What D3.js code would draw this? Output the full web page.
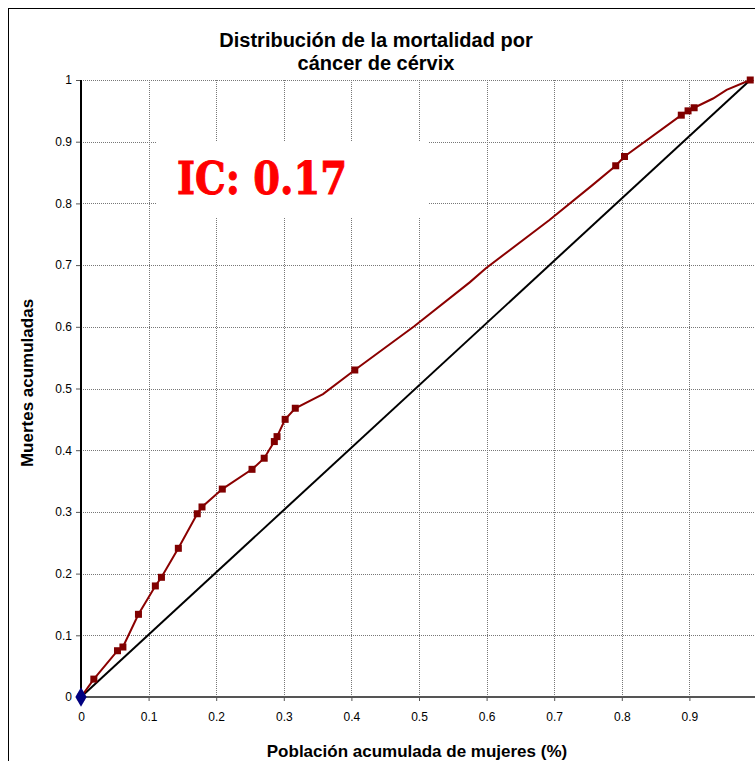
<!DOCTYPE html>
<html>
<head>
<meta charset="utf-8">
<script src="https://cdn.jsdelivr.net/npm/d3@7"></script>
<style>
  body { margin: 0; background: #fff; overflow: hidden; }
  svg text { font-family: "Liberation Sans", Arial, sans-serif; }
</style>
</head>
<body>
<svg id="chart"></svg>
<script>
// data
var xTicks = [0, 0.1, 0.2, 0.3, 0.4, 0.5, 0.6, 0.7, 0.8, 0.9];
var yTicks = [0, 0.1, 0.2, 0.3, 0.4, 0.5, 0.6, 0.7, 0.8, 0.9, 1];

// concentration curve (cumulative population, cumulative deaths); mark = 1 when a square is drawn
var curveX = [0, 0.019, 0.054, 0.062, 0.085, 0.110, 0.119, 0.144, 0.172, 0.179, 0.209, 0.253, 0.271, 0.286, 0.290, 0.302, 0.317, 0.358, 0.405, 0.493, 0.575, 0.599, 0.693, 0.757, 0.791, 0.804, 0.888, 0.898, 0.907, 0.935, 0.955, 0.99];
var curveY = [0, 0.029, 0.075, 0.081, 0.134, 0.180, 0.194, 0.241, 0.297, 0.308, 0.337, 0.369, 0.387, 0.414, 0.422, 0.450, 0.468, 0.491, 0.530, 0.601, 0.672, 0.695, 0.773, 0.830, 0.861, 0.876, 0.943, 0.950, 0.955, 0.970, 0.984, 1];
var curveMark = [1, 1, 1, 1, 1, 1, 1, 1, 1, 1, 1, 1, 1, 1, 1, 1, 1, 0, 1, 0, 0, 0, 0, 0, 1, 1, 1, 1, 1, 0, 0, 1];

// line of equality
var diagX = [0, 0.99];
var diagY = [0, 1];

var titleLines = ["Distribución de la mortalidad por", "cáncer de cérvix"];
var icLabel = "IC: 0.17";

var W = 755, H = 761;
var svg = d3.select("#chart").attr("width", W).attr("height", H);

var x = d3.scaleLinear().domain([0, 1]).range([81, 757]);
var y = d3.scaleLinear().domain([0, 1]).range([697, 80]);

// outer chart border
svg.append("rect")
    .attr("x", 8.5).attr("y", 8.5)
    .attr("width", 800).attr("height", 800)
    .attr("fill", "#fff")
    .attr("stroke", "#000")
    .attr("stroke-width", 1);

// gridlines
svg.append("g")
    .selectAll("line")
    .data(yTicks.filter(function(d){ return d > 0; }))
    .enter().append("line")
    .attr("x1", x(0)).attr("x2", W)
    .attr("y1", function(d){ return Math.round(y(d)) + 0.5; })
    .attr("y2", function(d){ return Math.round(y(d)) + 0.5; })
    .attr("stroke", "#777")
    .attr("stroke-dasharray", "1,1");

svg.append("g")
    .selectAll("line")
    .data(xTicks.filter(function(d){ return d > 0; }))
    .enter().append("line")
    .attr("y1", y(1)).attr("y2", y(0))
    .attr("x1", function(d){ return Math.round(x(d)) + 0.5; })
    .attr("x2", function(d){ return Math.round(x(d)) + 0.5; })
    .attr("stroke", "#777")
    .attr("stroke-dasharray", "1,1");

// white box behind the IC label
svg.append("rect")
    .attr("x", 157).attr("y", 142)
    .attr("width", 272).attr("height", 76)
    .attr("fill", "#fff");

svg.append("text")
    .attr("x", 177).attr("y", 194)
    .attr("textLength", 170)
    .attr("lengthAdjust", "spacingAndGlyphs")
    .style("font-family", "'DejaVu Serif', serif")
    .style("font-weight", "bold")
    .style("font-size", "44px")
    .attr("fill", "#ff0000")
    .attr("stroke", "#ff0000")
    .attr("stroke-width", 1)
    .text(icLabel);

// axes
var xAxis = d3.axisBottom(x).tickValues(xTicks).tickSize(4).tickFormat(function(d){ return d === 0 ? "0" : d3.format(".1f")(d); });
var yAxis = d3.axisLeft(y).tickValues(yTicks).tickSize(5).tickFormat(function(d){ return (d === 0 || d === 1) ? String(d) : d3.format(".1f")(d); });

var gx = svg.append("g").attr("transform", "translate(0," + y(0) + ")").call(xAxis);
gx.select(".domain").remove();
gx.selectAll(".tick line").attr("stroke", "#555");
gx.selectAll("text").attr("dy", "1.4em").style("font-size", "12px").attr("fill", "#000");
gx.append("line").attr("x1", x(0)).attr("x2", W).attr("stroke", "#555").attr("stroke-width", 2);

var gy = svg.append("g").attr("transform", "translate(" + x(0) + ",0)").call(yAxis);
gy.select(".domain").remove();
gy.selectAll(".tick line").attr("stroke", "#555");
gy.selectAll("text").attr("x", -9).style("font-size", "12px").attr("fill", "#000");
gy.append("line").attr("y1", y(0)).attr("y2", y(1)).attr("stroke", "#000").attr("stroke-width", 2);

// line of equality
var diag = diagX.map(function(d, i){ return [d, diagY[i]]; });
svg.append("path")
    .datum(diag)
    .attr("d", d3.line().x(function(d){ return x(d[0]); }).y(function(d){ return y(d[1]); }))
    .attr("stroke", "#000")
    .attr("stroke-width", 2)
    .attr("fill", "none");

// concentration curve
var curve = curveX.map(function(d, i){ return {x: d, y: curveY[i], m: curveMark[i]}; });
svg.append("path")
    .datum(curve)
    .attr("d", d3.line().x(function(d){ return x(d.x); }).y(function(d){ return y(d.y); }))
    .attr("stroke", "#8b0000")
    .attr("stroke-width", 2)
    .attr("fill", "none");

svg.append("g")
    .selectAll("rect")
    .data(curve.filter(function(d){ return d.m; }))
    .enter().append("rect")
    .attr("x", function(d){ return x(d.x) - 3.5; })
    .attr("y", function(d){ return y(d.y) - 3.5; })
    .attr("width", 7).attr("height", 7)
    .attr("fill", "#800000");

// diagonal's marker at the origin
svg.append("path")
    .attr("d", d3.symbol().type(d3.symbolDiamond).size(110)())
    .attr("transform", "translate(" + x(diagX[0]) + "," + y(diagY[0]) + ")")
    .attr("fill", "#000080");

// titles
svg.append("g").selectAll("text")
    .data(titleLines)
    .enter().append("text")
    .attr("x", 376)
    .attr("y", function(d, i){ return 47 + i * 23; })
    .attr("text-anchor", "middle")
    .style("font-size", "20px")
    .style("font-weight", "bold")
    .text(function(d){ return d; });

svg.append("text")
    .attr("x", 417).attr("y", 757)
    .attr("text-anchor", "middle")
    .style("font-size", "17px")
    .style("font-weight", "bold")
    .text("Población acumulada de mujeres (%)");

svg.append("text")
    .attr("transform", "translate(33,383) rotate(-90)")
    .attr("text-anchor", "middle")
    .style("font-size", "17px")
    .style("font-weight", "bold")
    .text("Muertes acumuladas");
</script>
</body>
</html>
